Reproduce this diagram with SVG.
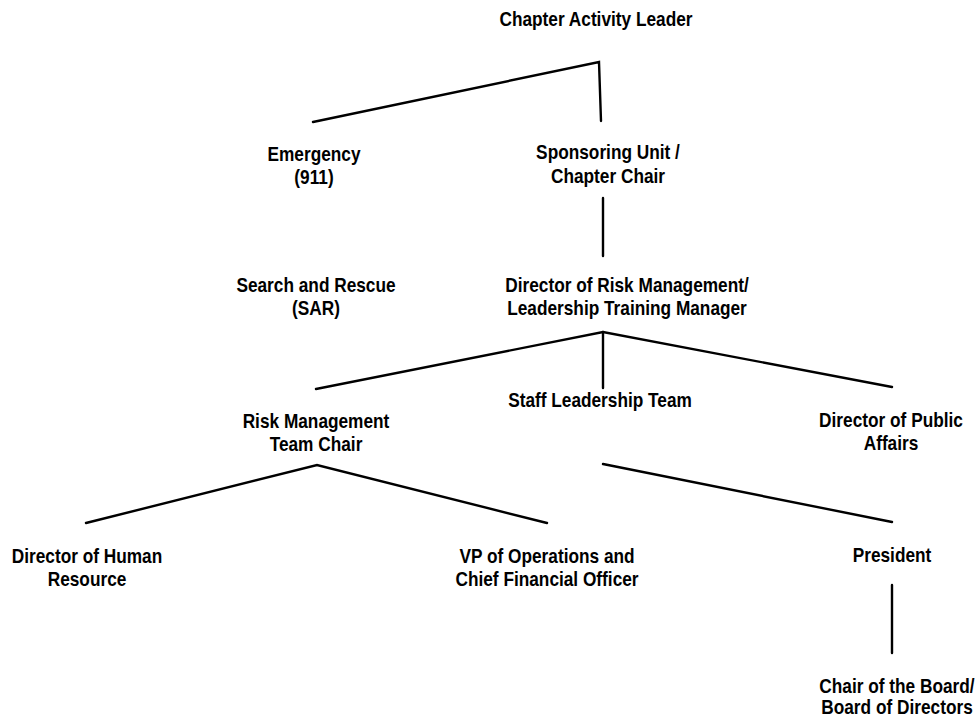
<svg xmlns="http://www.w3.org/2000/svg" width="977" height="722" viewBox="0 0 977 722">
<style>
text{font-family:"Liberation Sans",Arial,sans-serif;font-weight:bold;font-size:19.5px;fill:#000;text-anchor:middle}
.c line,.c polyline{stroke:#000;stroke-width:2.4;fill:none;stroke-linecap:round;stroke-linejoin:miter}
</style>
<rect width="977" height="722" fill="#fff"/>
<g class="c" id="connectors">
<polyline points="313,122 599,62 601,121"/>
<line x1="603" y1="198" x2="603" y2="256"/>
<polyline points="316,389 603,332 892,387"/>
<line x1="603" y1="332" x2="603" y2="388"/>
<polyline points="86,523 317,465 547,523"/>
<line x1="603" y1="464" x2="892" y2="522"/>
<line x1="892" y1="585" x2="892" y2="653"/>
</g>
<g id="chapter-activity-leader" transform="translate(596 26) scale(0.885 1)"><text>Chapter Activity Leader</text></g>
<g id="emergency" transform="translate(314 161) scale(0.885 1)"><text>Emergency<tspan x="0" dy="23">(911)</tspan></text></g>
<g id="sponsoring-unit" transform="translate(608 159) scale(0.885 1)"><text>Sponsoring Unit /<tspan x="0" dy="24">Chapter Chair</tspan></text></g>
<g id="search-and-rescue" transform="translate(316 292) scale(0.885 1)"><text>Search and Rescue<tspan x="0" dy="23">(SAR)</tspan></text></g>
<g id="director-risk-management" transform="translate(627 292) scale(0.885 1)"><text>Director of Risk Management/<tspan x="0" dy="23">Leadership Training Manager</tspan></text></g>
<g id="staff-leadership-team" transform="translate(600 407) scale(0.885 1)"><text>Staff Leadership Team</text></g>
<g id="risk-management-team-chair" transform="translate(316 428) scale(0.885 1)"><text>Risk Management<tspan x="0" dy="23">Team Chair</tspan></text></g>
<g id="director-public-affairs" transform="translate(891 427) scale(0.885 1)"><text>Director of Public<tspan x="0" dy="23">Affairs</tspan></text></g>
<g id="director-human-resource" transform="translate(87 563) scale(0.885 1)"><text>Director of Human<tspan x="0" dy="23">Resource</tspan></text></g>
<g id="vp-operations-cfo" transform="translate(547 563) scale(0.885 1)"><text>VP of Operations and<tspan x="0" dy="23">Chief Financial Officer</tspan></text></g>
<g id="president" transform="translate(892 562) scale(0.885 1)"><text>President</text></g>
<g id="chair-of-the-board" transform="translate(897 693) scale(0.885 1)"><text>Chair of the Board/<tspan x="0" dy="21">Board of Directors</tspan></text></g>
</svg>
